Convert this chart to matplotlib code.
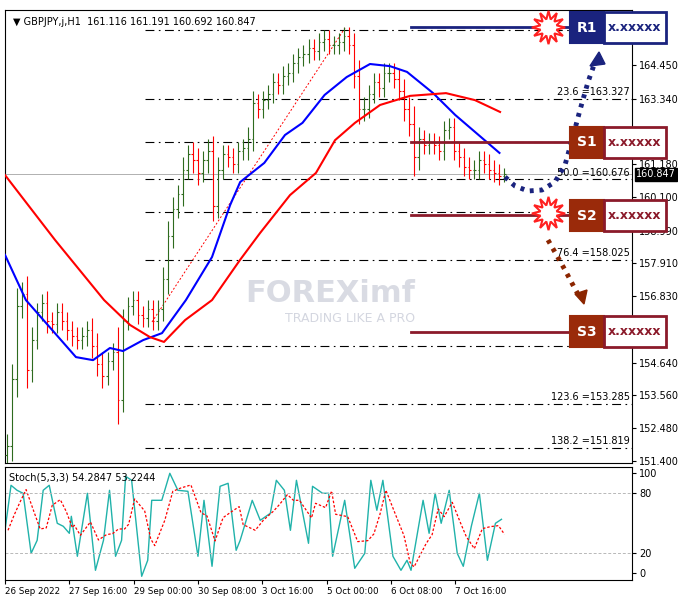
import numpy as np
import matplotlib
matplotlib.use("Agg")
import matplotlib.pyplot as plt
from matplotlib.patches import Rectangle, Polygon

W, H = 678, 603
closes = [151.9,154.1,156.5,156.9,154.4,155.4,156.3,156.6,156.0,155.9,156.3,156.0,155.7,155.5,155.4,155.5,155.7,155.2,154.6,154.2,
          154.7,155.0,153.4,156.0,156.5,156.7,156.2,156.1,156.4,156.0,156.4,157.4,158.8,159.7,160.2,161.0,161.5,161.3,160.9,161.3,
          161.6,159.8,161.0,161.5,161.4,161.2,161.6,161.7,162.0,163.2,163.0,163.3,163.5,163.9,163.8,164.1,164.2,164.5,164.7,164.8,
          165.0,164.9,165.2,165.3,165.1,165.1,165.2,165.4,165.1,164.1,163.0,163.0,163.5,163.9,163.7,164.2,164.2,164.0,163.6,163.0,
          162.5,161.4,162.0,161.8,161.9,161.8,161.6,162.3,162.4,161.6,161.4,161.1,161.0,161.0,161.3,161.2,161.0,160.9,160.8,160.85]
wick = [0.4,0.5,0.6,0.4,0.6,0.4,0.3,0.3,0.4,0.3,0.3,0.3,0.3,0.3,0.3,0.3,0.3,0.4,0.4,0.4,
        0.3,0.3,0.8,0.4,0.3,0.3,0.3,0.3,0.3,0.3,0.3,0.4,0.5,0.4,0.3,0.4,0.3,0.4,0.4,0.3,
        0.4,0.5,0.4,0.3,0.3,0.3,0.3,0.3,0.4,0.4,0.3,0.3,0.3,0.3,0.3,0.3,0.3,0.3,0.3,0.3,
        0.3,0.3,0.3,0.3,0.3,0.3,0.3,0.3,0.3,0.4,0.5,0.4,0.3,0.3,0.3,0.3,0.3,0.3,0.3,0.4,
        0.4,0.6,0.4,0.3,0.3,0.3,0.3,0.3,0.3,0.3,0.3,0.3,0.3,0.3,0.3,0.3,0.3,0.3,0.3,0.2]
bar_step = 2.5

blue_x = [0,10.4,35.3,43.8,52.2,58.7,68.7,78.1,90,103,112,117,129,139.3,148,159,170,181.6,191.5,200,213,224,246]
blue_p = [158.19,156.70,154.82,154.72,155.12,155.02,155.38,155.61,156.70,158.12,159.83,160.59,161.22,162.14,162.54,163.46,164.05,164.48,164.41,164.22,163.52,162.80,161.55]
red_x = [0,24.9,49.3,62.2,72.1,79.1,89.6,103,116.9,126.9,141.8,154.7,164.2,174.1,186.6,201.5,219.4,233.8,246.3]
red_p = [160.82,158.68,156.70,155.88,155.48,155.32,156.04,156.70,158.02,158.91,160.16,160.89,161.97,162.54,163.13,163.43,163.52,163.29,162.90]

fib_prices = [165.6, 163.327, 161.9, 160.676, 159.6, 158.025, 155.2, 153.285, 151.819]
fib_labels = {163.327: "23.6 =163.327", 160.676: "50.0 =160.676", 158.025: "76.4 =158.025",
              153.285: "123.6 =153.285", 151.819: "138.2 =151.819"}
yticks = [164.450,163.340,161.180,160.100,158.990,157.910,156.830,154.640,153.560,152.480,151.400]
last_price = 160.847

k_x = [0,3,6,9,13,16,19,22,26,29,32,33,36,41,45,49,52,55,58,60,63,68,71,73,78,82,86,91,96,99,103,107,111,115,117,123,127,132,135,139,
       142,145,151,153,158,161,163,169,174,179,182,185,188,193,197,200,202,208,211,214,217,221,225,228,232,236,240,244,247]
k_v = [43,88,83,80,20,33,83,88,50,47,40,57,17,80,3,33,83,17,33,97,93,-3,13,73,73,100,83,82,17,73,7,87,90,23,33,73,53,60,93,83,
       43,93,30,87,80,80,17,73,5,20,93,63,93,17,3,13,3,73,40,80,50,83,20,7,47,80,13,50,54]
date_ticks = [0,32,64,96,128,160,192,224]
date_labels = ["26 Sep 2022","27 Sep 16:00","29 Sep 00:00","30 Sep 08:00","3 Oct 16:00","5 Oct 00:00","6 Oct 08:00","7 Oct 16:00"]

fig = plt.figure(figsize=(W/100, H/100), dpi=100)
PXB = 2.01
XMAX = (632-5)/PXB
YTOP, YBOT = 166.26, 151.33
ax = fig.add_axes([5/W, 1-463/H, 627/W, 453/H])
ax2 = fig.add_axes([5/W, 1-580/H, 627/W, 113/H])
ax.set_xlim(0, XMAX); ax.set_ylim(YBOT, YTOP)
ax2.set_xlim(0, XMAX); ax2.set_ylim(-6.7, 106.3)

def pd(x, y):
    return (x-5)/PXB, YTOP-(y-10)*(YTOP-YBOT)/453

# candles
c = np.array(closes); o = np.concatenate([[c[0]-0.3], c[:-1]])
w = np.array(wick)
hi = np.maximum(o, c)+w; lo = np.minimum(o, c)-w
xs = np.arange(len(c))*bar_step+1
for i in range(len(c)):
    col = '#2e6b1e' if c[i] >= o[i] else '#ff0000'
    ax.vlines(xs[i], lo[i], hi[i], color=col, lw=0.8, zorder=3)
    ax.hlines(c[i], xs[i], xs[i]+0.8, color=col, lw=0.8, zorder=3)
    ax.hlines(o[i], xs[i]-0.8, xs[i], color=col, lw=0.8, zorder=3)

ax.plot(blue_x, blue_p, color='#0000ff', lw=1.5, zorder=4)
ax.plot(red_x, red_p, color='#ff0000', lw=1.5, zorder=4)
x0, p0 = pd(152, 322); x1, p1 = pd(345, 28)
ax.plot([x0, x1], [p0, p1], color='#ff0000', lw=0.7, ls=(0, (2, 2)), zorder=2)

fx0 = pd(145, 0)[0]
for p in fib_prices:
    ax.plot([fx0, XMAX], [p, p], color='black', lw=0.8, ls=(0, (8, 4, 1.5, 4)), zorder=2)
    if p in fib_labels:
        ax.text(XMAX-1, p+0.06, fib_labels[p], ha='right', va='bottom', fontsize=7, zorder=5)
ax.axhline(last_price, color='#b0b0b0', lw=0.7, zorder=1)

ax.yaxis.tick_right()
ax.set_yticks(yticks)
ax.set_yticklabels([f"{v:.3f}" for v in yticks], fontsize=7)
ax.tick_params(axis='y', length=3, pad=2)
ax.set_xticks([])
ax.text(XMAX+2, last_price, f"{last_price:.3f}", transform=ax.transData, fontsize=7, color='white', va='center',
        ha='left', bbox=dict(boxstyle='square,pad=0.15', fc='black', ec='black'), clip_on=False, zorder=6)
ax.text(0.012, 0.985, "\u25bc GBPJPY,j,H1  161.116 161.191 160.692 160.847", transform=ax.transAxes, fontsize=7, va='top')

# watermark
fig.text(330/W, 1-294/H, "FOREXimf", fontsize=22, fontweight='bold', color='#c9ccd8', alpha=0.7, ha='center', va='center')
fig.text(350/W, 1-319/H, "TRADING LIKE A PRO", fontsize=9, color='#c9ccd8', alpha=0.8, ha='center', va='center')

# levels
lv = [("R1", 27, '#1a237e', '#1a237e', 12), ("S1", 142, '#8b1a2a', '#9a2a0a', 127),
      ("S2", 215, '#8b1a2a', '#9a2a0a', 200), ("S3", 332, '#8b1a2a', '#9a2a0a', 316)]
for name, y, lc, bc, by in lv:
    xa = pd(411, y)[0]; xb = pd(570, y)[0]
    ax.plot([xa, xb], [pd(0, y)[1]]*2, color=lc, lw=2, zorder=5, clip_on=False)
    fig.add_artist(Rectangle((570/W, 1-(by+31)/H), 34/W, 31/H, fc=bc, ec=bc, lw=1.5, zorder=10))
    fig.add_artist(Rectangle((604/W, 1-(by+31)/H), 62/W, 31/H, fc='white', ec=lc, lw=2, zorder=10))
    fig.text(587/W, 1-(by+15.5)/H, name, color='white', fontsize=10, fontweight='bold', ha='center', va='center', zorder=11)
    fig.text(635/W, 1-(by+15.5)/H, "x.xxxxx", color=lc, fontsize=9, fontweight='bold', ha='center', va='center', zorder=11)
for y in (27, 213):
    fig.lines.append(plt.Line2D([548/W], [1-y/H], transform=fig.transFigure, marker=(12, 1, 0), ms=24,
                                mfc='white', mec='#ff2020', mew=1.5, zorder=9))

bl = [(505,177),(515,186),(528,191),(542,190),(555,182),(565,165),(572,140),(580,110),(588,82),(594,65)]
fig.lines.append(plt.Line2D([p[0]/W for p in bl], [1-p[1]/H for p in bl], transform=fig.transFigure,
                            color='#1a237e', lw=3.5, ls=(0, (0.8, 1.2)), zorder=9))
fig.add_artist(Polygon([(590/W, 1-66/H), (605/W, 1-64/H), (599/W, 1-52/H)], closed=True, fc='#1a237e', ec='#1a237e', zorder=9))
br = [(548,240),(556,254),(565,270),(574,287),(579,296)]
fig.lines.append(plt.Line2D([p[0]/W for p in br], [1-p[1]/H for p in br], transform=fig.transFigure,
                            color='#8b2500', lw=3.5, ls=(0, (0.8, 1.2)), zorder=9))
fig.add_artist(Polygon([(575/W, 1-294/H), (587/W, 1-290/H), (584/W, 1-304/H)], closed=True, fc='#8b2500', ec='#8b2500', zorder=9))

# stochastic
kv = np.array(k_v, float)
dv = np.convolve(np.concatenate([[kv[0], kv[0]], kv]), np.ones(3)/3, 'valid')
ax2.plot(k_x, kv, color='#20b2aa', lw=1)
ax2.plot(np.array(k_x)+1.5, dv, color='#ff0000', lw=0.9, ls=(0, (2, 1.5)))
for lvl in (80, 20):
    ax2.axhline(lvl, color='#b8b8b8', lw=0.7, ls=(0, (3, 2)))
ax2.yaxis.tick_right()
ax2.set_yticks([100, 80, 20, 0]); ax2.set_yticklabels(['100', '80', '20', '0'], fontsize=7)
ax2.tick_params(axis='y', length=3, pad=2)
ax2.set_xticks(date_ticks)
ax2.set_xticklabels(date_labels, fontsize=6.3, ha='left')
ax2.tick_params(axis='x', length=3, pad=2)
ax2.text(0.006, 0.95, "Stoch(5,3,3) 54.2847 53.2244", transform=ax2.transAxes, fontsize=7, va='top')
for a in (ax, ax2):
    for s in a.spines.values():
        s.set_linewidth(0.8)

fig.savefig("out.png", dpi=100)
